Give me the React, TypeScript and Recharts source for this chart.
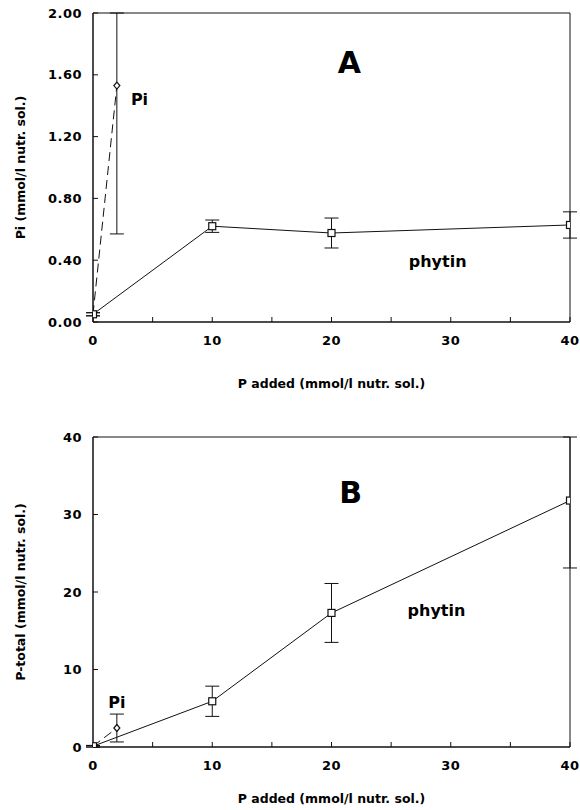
import { Label, Line, LineChart, ReferenceArea, ReferenceDot, XAxis, YAxis, ErrorBar } from "recharts";

// P added (mmol/l nutr. sol.)
const phytinDose = [0, 10, 20, 40];
const piDose = [0, 2];

// panel A: Pi in nutrient solution
const phytinPiA = [0.05, 0.62, 0.576, 0.628];
const phytinPiAErr = [0.01, 0.04, 0.097, 0.085];
const piPiA = [0.05, 1.53];
const piPiAErr = [0.01, 0.96];

// panel B: P-total in nutrient solution
const phytinTotalB = [0.1, 5.9, 17.3, 31.8];
const phytinTotalBErr = [0.1, 1.95, 3.8, 8.7];
const piTotalB = [0.1, 2.45];
const piTotalBErr = [0.1, 1.8];

const xTicks = [0, 5, 10, 15, 20, 25, 30, 35, 40];
const yTicksA = [0, 0.4, 0.8, 1.2, 1.6, 2.0];
const yTicksB = [0, 10, 20, 30, 40];

const notesA = [
  { x: 21.5, y: 1.68, text: "A", size: 30 },
  { x: 3.9, y: 1.44, text: "Pi", size: 16 },
  { x: 28.9, y: 0.39, text: "phytin", size: 16 },
];
const notesB = [
  { x: 21.6, y: 32.8, text: "B", size: 30 },
  { x: 2.0, y: 5.8, text: "Pi", size: 16 },
  { x: 28.8, y: 17.6, text: "phytin", size: 16 },
];

const FONT = "'DejaVu Sans', sans-serif";
const INK = "#111";
const tickStyle = { fontFamily: FONT, fontWeight: "bold", fontSize: 13, letterSpacing: 0.5, fill: "#000" };
const titleStyle = { fontFamily: FONT, fontWeight: "bold", fontSize: 12.5, fill: "#000" };

// error bars are cut off at the top of the frame, like in the print
const toRows = (xs: number[], ys: number[], errs: number[], top: number) =>
  xs.map((x, i) => ({ x, y: ys[i], err: [errs[i], Math.min(errs[i], top - ys[i])] }));

const squareDot = (p: any) => (
  <rect key={`s${p.index}`} x={p.cx - 3.5} y={p.cy - 3.5} width={7} height={7} fill="#fff" stroke={INK} strokeWidth={1.2} />
);
const diamondDot = (p: any) =>
  p.index === 0 ? (
    <g key={`d${p.index}`} />
  ) : (
    <path
      key={`d${p.index}`}
      d={`M${p.cx},${p.cy - 3.5}L${p.cx + 3},${p.cy}L${p.cx},${p.cy + 3.5}L${p.cx - 3},${p.cy}Z`}
      fill="#fff"
      stroke={INK}
      strokeWidth={1.2}
    />
  );

function Panel({ width, height, margin, xHeight, yMax, yTicks, yFormat, yLabel, phytin, pi, notes }: any) {
  return (
    <LineChart width={width} height={height} margin={margin}>
      <XAxis
        dataKey="x"
        type="number"
        domain={[0, 40]}
        ticks={xTicks}
        tickFormatter={(v: number) => (v % 10 === 0 ? String(v) : "")}
        tickSize={-5}
        tickMargin={19}
        height={xHeight}
        stroke={INK}
        tick={tickStyle}
        allowDataOverflow
      >
        <Label value="P added (mmol/l nutr. sol.)" position="insideBottom" offset={4} style={titleStyle} />
      </XAxis>
      <YAxis
        type="number"
        domain={[0, yMax]}
        ticks={yTicks}
        tickFormatter={yFormat}
        tickSize={-5}
        tickMargin={16}
        width={85}
        stroke={INK}
        tick={tickStyle}
        allowDataOverflow
      >
        <Label
          value={yLabel}
          angle={-90}
          position="insideLeft"
          offset={13}
          style={{ ...titleStyle, textAnchor: "middle" }}
        />
      </YAxis>
      <ReferenceArea x1={0} x2={40} y1={0} y2={yMax} fill="none" stroke={INK} strokeWidth={1} />
      <Line
        data={pi}
        dataKey="y"
        stroke={INK}
        strokeWidth={1}
        strokeDasharray="9 5"
        dot={diamondDot}
        isAnimationActive={false}
      >
        <ErrorBar dataKey="err" direction="y" width={7} stroke={INK} strokeWidth={1} />
      </Line>
      <Line data={phytin} dataKey="y" stroke={INK} strokeWidth={1} dot={squareDot} isAnimationActive={false}>
        <ErrorBar dataKey="err" direction="y" width={7} stroke={INK} strokeWidth={1} />
      </Line>
      {notes.map((n: any) => (
        <ReferenceDot
          key={n.text}
          x={n.x}
          y={n.y}
          r={0}
          shape={(p: any) => (
            <text
              x={p.cx}
              y={p.cy}
              textAnchor="middle"
              dominantBaseline="central"
              fontFamily={FONT}
              fontWeight="bold"
              fontSize={n.size}
              fill="#000"
            >
              {n.text}
            </text>
          )}
        />
      ))}
    </LineChart>
  );
}

export default function App() {
  return (
    <div style={{ position: "absolute", left: 0, top: 0, width: 580, height: 810, background: "#fff" }}>
      <Panel
        width={580}
        height={400}
        margin={{ top: 13, right: 10, bottom: 8, left: 8 }}
        xHeight={70}
        yMax={2}
        yTicks={yTicksA}
        yFormat={(v: number) => v.toFixed(2)}
        yLabel="Pi (mmol/l nutr. sol.)"
        phytin={toRows(phytinDose, phytinPiA, phytinPiAErr, 2)}
        pi={toRows(piDose, piPiA, piPiAErr, 2)}
        notes={notesA}
      />
      <Panel
        width={580}
        height={410}
        margin={{ top: 37, right: 10, bottom: 3, left: 8 }}
        xHeight={60}
        yMax={40}
        yTicks={yTicksB}
        yFormat={(v: number) => String(v)}
        yLabel="P-total (mmol/l nutr. sol.)"
        phytin={toRows(phytinDose, phytinTotalB, phytinTotalBErr, 40)}
        pi={toRows(piDose, piTotalB, piTotalBErr, 40)}
        notes={notesB}
      />
    </div>
  );
}
